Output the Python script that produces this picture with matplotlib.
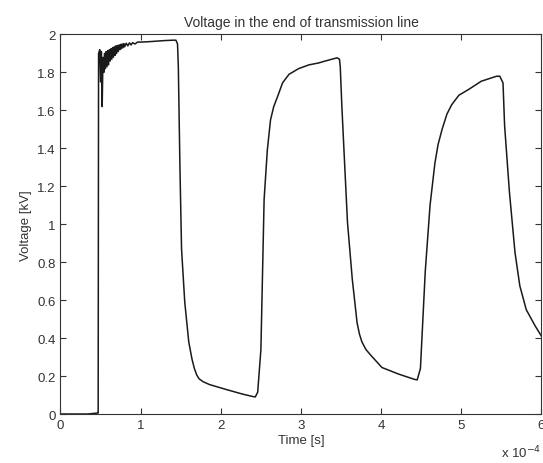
import numpy as np
import matplotlib.pyplot as plt

# time in units of 1e-4 s, voltage in kV
t_start = [0.0, 0.34, 0.46, 0.47, 0.475]
v_start = [0.0, 0.0, 0.005, 0.005, 1.90]

# ringing right after the front
t_ring = [0.49, 0.50, 0.51, 0.52, 0.53, 0.54, 0.55, 0.56, 0.57, 0.58,
          0.59, 0.60, 0.61, 0.62, 0.63, 0.64, 0.65, 0.66, 0.67, 0.68,
          0.69, 0.70, 0.71, 0.72, 0.73, 0.74, 0.75, 0.76, 0.77, 0.78,
          0.79, 0.80, 0.82, 0.84, 0.86, 0.88, 0.90, 0.93]
v_ring = [1.92, 1.75, 1.91, 1.62, 1.88, 1.80, 1.90, 1.82, 1.91, 1.83,
          1.915, 1.84, 1.92, 1.86, 1.925, 1.87, 1.93, 1.88, 1.935, 1.89,
          1.94, 1.90, 1.942, 1.91, 1.945, 1.92, 1.948, 1.925, 1.95, 1.93,
          1.952, 1.935, 1.954, 1.94, 1.956, 1.945, 1.957, 1.95]

t_rest = [0.96, 1.0, 1.1, 1.2, 1.3, 1.4, 1.44, 1.46, 1.47, 1.49, 1.51, 1.55,
          1.60, 1.64, 1.67, 1.70, 1.73, 1.78, 1.86, 2.06, 2.27, 2.40, 2.43,
          2.46, 2.50, 2.54, 2.58, 2.62, 2.66, 2.71, 2.77, 2.85, 2.97, 3.10,
          3.22, 3.30, 3.45, 3.48, 3.49, 3.51, 3.55, 3.58, 3.64, 3.70, 3.73,
          3.76, 3.81, 3.87, 4.01, 4.22, 4.42, 4.45, 4.49, 4.55, 4.61, 4.67,
          4.71, 4.76, 4.82, 4.88, 4.97, 5.09, 5.25, 5.44, 5.48, 5.52, 5.54,
          5.60, 5.67, 5.73, 5.81, 5.92, 6.0]
v_rest = [1.96, 1.96, 1.962, 1.965, 1.968, 1.97, 1.97, 1.95, 1.83, 1.30, 0.87, 0.59,
          0.38, 0.29, 0.24, 0.205, 0.185, 0.17, 0.155, 0.13, 0.105, 0.092, 0.09,
          0.115, 0.34, 1.13, 1.39, 1.55, 1.62, 1.675, 1.745, 1.79, 1.82, 1.84,
          1.85, 1.86, 1.877, 1.87, 1.83, 1.62, 1.27, 1.01, 0.71, 0.48, 0.42,
          0.38, 0.34, 0.31, 0.245, 0.21, 0.182, 0.18, 0.24, 0.75, 1.10, 1.32,
          1.42, 1.50, 1.58, 1.63, 1.68, 1.71, 1.754, 1.78, 1.78, 1.745, 1.52,
          1.17, 0.85, 0.675, 0.55, 0.465, 0.41]

t = np.array(t_start + t_ring + t_rest)
v = np.array(v_start + v_ring + v_rest)

plt.rcParams['font.family'] = ['Liberation Sans', 'DejaVu Sans']

fig = plt.figure(figsize=(5.43, 4.64), dpi=100)
ax = fig.add_axes([0.1114, 0.1056, 0.8858, 0.8179])
ax.plot(t, v, color='#1a1a1a', lw=1.1)

ax.set_xlim(0, 6)
ax.set_ylim(0, 2)
ax.set_xticks(np.arange(0, 7, 1))
ax.set_yticks(np.arange(0, 2.01, 0.2))
ax.set_yticklabels(['0', '0.2', '0.4', '0.6', '0.8', '1', '1.2', '1.4', '1.6', '1.8', '2'])
ax.tick_params(direction='in', top=True, right=True, length=4, labelsize=9.5, colors='#333333')
for s in ax.spines.values():
    s.set_color('#333333')

ax.set_title('Voltage in the end of transmission line', fontsize=10, color='#333333', pad=6)
ax.set_xlabel('Time [s]', fontsize=9.5, color='#333333', labelpad=2)
ax.set_ylabel('Voltage [kV]', fontsize=9.5, color='#333333', labelpad=4)
fig.text(0.922, 0.012, r'x 10$^{-4}$', fontsize=9.5, color='#333333')

fig.savefig('out.png', dpi=100)
